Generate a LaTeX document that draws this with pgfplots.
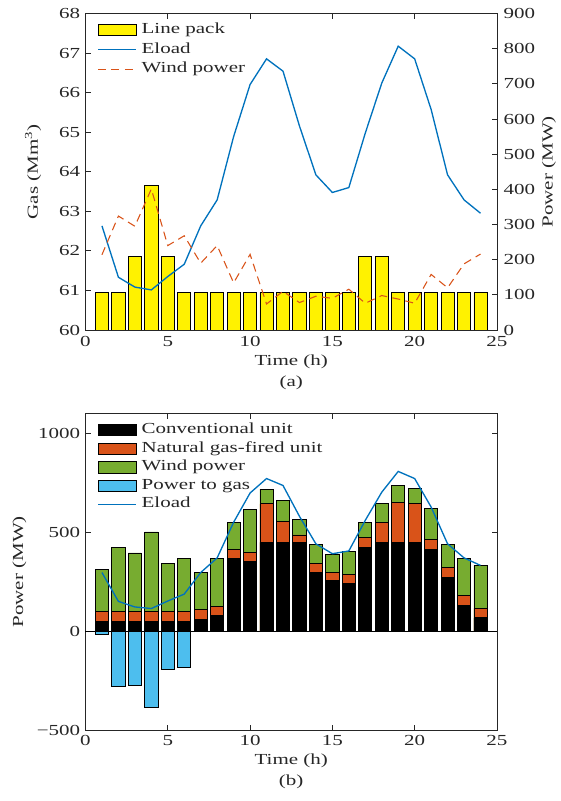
\documentclass[border=0pt]{standalone}
\usepackage{fontspec}
\setmainfont{Liberation Serif}[FakeStretch=1.37]
\usepackage{pgfplots}
\pgfplotsset{compat=1.18}
\usepackage{pgfplotstable}

\definecolor{eloadblue}{RGB}{0,114,189}
\definecolor{matorange}{RGB}{217,83,25}
\definecolor{windgreen}{RGB}{119,172,48}
\definecolor{p2gblue}{RGB}{77,190,238}
\definecolor{axisgray}{RGB}{38,38,38}

% hourly dispatch: conventional, gas-fired, wind, power-to-gas, load (MW); line pack (Mm3)
\pgfplotstableread{
t conv gas wind p2g eload pack
1 50 48 214 -18 296 60.95
2 50 48 324 -278 150 60.95
3 50 50 295 -275 122 61.85
4 50 50 401 -385 114 63.65
5 50 50 240 -192 152 61.85
6 50 50 268 -182 187 60.95
7 59 49 190 0 296 60.95
8 79 47 240 0 370 60.95
9 367 47 134 0 550 60.95
10 354 45 215 0 698 60.95
11 449 194 74 0 771 60.95
12 449 103 110 0 736 60.95
13 449 37 78 0 580 60.95
14 295 45 96 0 441 60.95
15 254 44 90 0 391 60.95
16 239 46 116 0 405 60.95
17 424 51 76 0 560 61.85
18 449 98 98 0 702 61.85
19 449 199 88 0 807 60.95
20 449 194 76 0 771 60.95
21 412 49 158 0 627 60.95
22 273 47 120 0 441 60.95
23 130 48 188 0 370 60.95
24 67 49 216 0 332 60.95
}\dispatch

\pgfplotsset{
  barleg/.style={legend image code/.code={\draw[##1] (0pt,-4.3pt) rectangle (28.7pt,4.3pt);}},
  lineleg/.style={legend image code/.code={\draw[##1] (0pt,0pt) -- (28.7pt,0pt);}},
  common/.style={
    scale only axis, width=308.6pt, height=237.4pt,
    xmin=0, xmax=25, xtick={0,5,...,25},
    tick align=inside, major tick length=4pt,
    axis line style={axisgray, line width=0.6pt},
    every tick/.style={axisgray, line width=0.6pt},
    /pgf/number format/assume math mode=true,
    /pgf/number format/1000 sep={},
    xlabel style={align=center, font=\fontsize{11.5}{15.75}\selectfont, yshift=2pt},
    legend style={draw=none, fill=none, at={(0,1)}, anchor=north west,
      xshift=9pt, yshift=-7pt, inner sep=0pt, outer sep=0pt,
      cells={anchor=west}, column sep=3.4pt,
      nodes={inner sep=0pt, text height=0.7em, text depth=0.25em}},
  },
}

\begin{document}
\fontsize{11.5}{13.8}\selectfont
\color{axisgray}
\begin{tikzpicture}
\useasboundingbox (-64.125pt,-53.25pt) rectangle (356.6pt,547.5pt);

% (a) line pack, left axis
\begin{axis}[common, at={(0,300pt)}, anchor=south west,
  ymin=60, ymax=68, ytick={60,...,68}, ytick pos=left,
  xticklabel style={yshift=-1pt},
  ylabel={Gas (Mm\textsuperscript{3})},
  ylabel style={at={(axis description cs:-0.1276,0.5)}, anchor=center},
  xlabel={Time (h)\\(a)}]
\addplot[ybar, bar width=0.8, bar shift=0pt, fill=yellow, draw=black, line width=0.6pt]
  table[x=t, y=pack] {\dispatch};
\end{axis}

% (a) power, right axis
\begin{axis}[common, at={(0,300pt)}, anchor=south west,
  ymin=0, ymax=900, ytick={0,100,...,900}, ytick pos=right, yticklabel pos=right,
  yticklabel style={xshift=1pt},
  xtick=\empty,
  ylabel={Power (MW)},
  ylabel style={at={(axis description cs:1.1264,0.5)}, anchor=center},
  legend style={row sep=3.7pt}]
\addlegendimage{barleg, fill=yellow, draw=black, line width=0.6pt}
\addplot[eloadblue, line width=1pt, lineleg] table[x=t, y=eload] {\dispatch};
\addplot[matorange, line width=0.8pt, dash pattern=on 6pt off 4pt, lineleg]
  table[x=t, y=wind] {\dispatch};
\legend{Line pack, Eload, Wind power}
\end{axis}

% (b) power balance
\begin{axis}[common, at={(0,0)}, anchor=south west,
  ymin=-500, ymax=1100, ytick={-500,0,500,1000}, yticklabels={−500,0,500,1000},
  extra y ticks={0}, extra y tick labels={},
  extra y tick style={grid=major, major grid style={black, line width=0.6pt}, major tick length=0pt},
  ylabel={Power (MW)},
  ylabel style={at={(axis description cs:-0.1604,0.5)}, anchor=center},
  xlabel={Time (h)\\(b)},
  legend style={row sep=3pt}]
\addplot[ybar, bar width=0.8, bar shift=0pt, fill=windgreen, draw=black, line width=0.6pt, forget plot]
  table[x=t, y expr=\thisrow{conv}+\thisrow{gas}+\thisrow{wind}] {\dispatch};
\addplot[ybar, bar width=0.8, bar shift=0pt, fill=matorange, draw=black, line width=0.6pt, forget plot]
  table[x=t, y expr=\thisrow{conv}+\thisrow{gas}] {\dispatch};
\addplot[ybar, bar width=0.8, bar shift=0pt, fill=black, draw=black, line width=0.6pt, forget plot]
  table[x=t, y=conv] {\dispatch};
\addplot[ybar, bar width=0.8, bar shift=0pt, fill=p2gblue, draw=black, line width=0.6pt, forget plot]
  table[x=t, y=p2g] {\dispatch};
\addlegendimage{barleg, fill=black, draw=black, line width=0.6pt}
\addlegendimage{barleg, fill=matorange, draw=black, line width=0.6pt}
\addlegendimage{barleg, fill=windgreen, draw=black, line width=0.6pt}
\addlegendimage{barleg, fill=p2gblue, draw=black, line width=0.6pt}
\addplot[eloadblue, line width=1pt, lineleg] table[x=t, y=eload] {\dispatch};
\legend{Conventional unit, Natural gas-fired unit, Wind power, Power to gas, Eload}
\end{axis}
\end{tikzpicture}
\end{document}
